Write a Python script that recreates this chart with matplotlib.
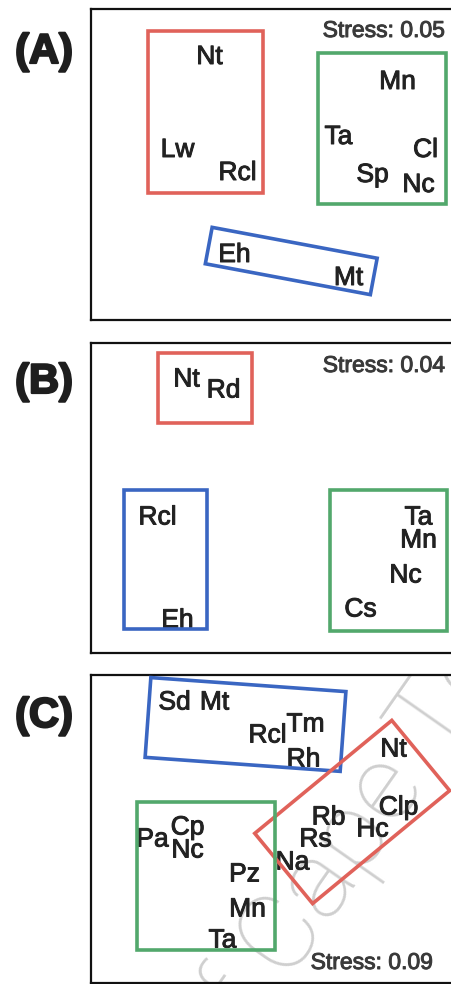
import numpy as np
import matplotlib
matplotlib.use("Agg")
import matplotlib.pyplot as plt
from matplotlib.patches import Polygon
import matplotlib.patheffects as pe

# ---------------- data (NMDS scores) ----------------
# Panel A
a_labels = ["Nt", "Lw", "Rcl", "Mn", "Ta", "Cl", "Sp", "Nc", "Eh", "Mt"]
a_x = [-0.62, -0.94, -0.34, 1.26, 0.67, 1.54, 1.01, 1.47, -0.37, 0.77]
a_y = [1.10, 0.17, -0.06, 0.85, 0.30, 0.17, -0.08, -0.18, -0.88, -1.11]
a_group = ["red", "red", "red", "green", "green", "green", "green", "green", "blue", "blue"]
a_stress = 0.05

# Panel B
b_labels = ["Nt", "Rd", "Rcl", "Eh", "Ta", "Mn", "Nc", "Cs"]
b_x = [-0.85, -0.48, -1.14, -0.94, 1.47, 1.47, 1.34, 0.89]
b_y = [1.21, 1.10, -0.17, -1.20, -0.17, -0.40, -0.75, -1.09]
b_group = ["red", "red", "blue", "blue", "green", "green", "green", "green"]
b_stress = 0.04

# Panel C
c_labels = ["Sd", "Mt", "Rcl", "Tm", "Rh",
            "Nt", "Clp", "Hc", "Rb", "Rs", "Na",
            "Pa", "Cp", "Nc", "Pz", "Mn", "Ta"]
c_x = [-0.97, -0.57, -0.04, 0.34, 0.32,
       1.22, 1.27, 1.01, 0.57, 0.44, 0.21,
       -1.19, -0.84, -0.84, -0.27, -0.24, -0.49]
c_y = [1.29, 1.29, 0.96, 1.07, 0.72,
       0.82, 0.24, 0.02, 0.14, -0.08, -0.31,
       -0.08, 0.04, -0.19, -0.43, -0.78, -1.09]
c_group = ["blue"] * 5 + ["red"] * 6 + ["green"] * 6
c_stress = 0.09

# ---------------- styling ----------------
COLORS = {"red": "#e0625a", "green": "#52a86c", "blue": "#3a66c2"}
LABEL_FONT = "Liberation Sans"

# group box styles: (angle in degrees, pads left/right/bottom/top in data units)
a_boxes = {"red": (0.0, (0.295, 0.255, 0.225, 0.235)),
           "green": (0.0, (0.205, 0.205, 0.215, 0.265)),
           "blue": (-10.6, (0.266, 0.250, 0.148, 0.206))}
b_boxes = {"red": (0.0, (0.285, 0.285, 0.35, 0.24)),
           "blue": (0.0, (0.335, 0.295, 0.11, 0.25)),
           "green": (0.0, (0.305, 0.285, 0.24, 0.25))}
c_boxes = {"blue": (-4.11, (0.252, 0.376, 0.117, 0.178)),
           "red": (39.5, (0.122, 0.156, 0.210, 0.216)),
           "green": (0.0, (0.155, 0.275, 0.12, 0.23))}

W, H = 452, 984
fig = plt.figure(figsize=(W / 100, H / 100), dpi=100)
fig.patch.set_facecolor("white")


def group_box(xs, ys, angle, pads):
    th = np.radians(angle)
    c, s = np.cos(th), np.sin(th)
    xs = np.asarray(xs); ys = np.asarray(ys)
    u = xs * c + ys * s
    v = -xs * s + ys * c
    pl, pr, pb, pt = pads
    u0, u1 = u.min() - pl, u.max() + pr
    v0, v1 = v.min() - pb, v.max() + pt
    uv = np.array([[u0, v0], [u1, v0], [u1, v1], [u0, v1]])
    x = uv[:, 0] * c - uv[:, 1] * s
    y = uv[:, 0] * s + uv[:, 1] * c
    return np.column_stack([x, y])


def panel(rect, xlim, ylim, labels, xs, ys, groups, boxes, stress, stress_pos, tag, tag_y):
    ax = fig.add_axes(rect)
    ax.set_xlim(*xlim)
    ax.set_ylim(*ylim)
    ax.set_xticks([]); ax.set_yticks([])
    ax.spines["right"].set_visible(False)
    for sp in ["left", "top", "bottom"]:
        ax.spines[sp].set_linewidth(1.6)
        ax.spines[sp].set_color("#111111")
    ax.patch.set_alpha(0)
    for lab, x, y in zip(labels, xs, ys):
        ax.text(x, y, lab, ha="center", va="center_baseline", fontsize=19,
                family=LABEL_FONT, color="#222222", zorder=2,
                path_effects=[pe.withStroke(linewidth=0.7, foreground="#222222")])
    for g, (ang, pads) in boxes.items():
        gx = [x for x, gg in zip(xs, groups) if gg == g]
        gy = [y for y, gg in zip(ys, groups) if gg == g]
        poly = Polygon(group_box(gx, gy, ang, pads), closed=True, fill=False,
                       edgecolor=COLORS[g], linewidth=2.6, joinstyle="miter", zorder=3)
        ax.add_patch(poly)
    ax.text(stress_pos[0], stress_pos[1], f"Stress: {stress:.2f}", transform=ax.transAxes,
            ha="right", va="center_baseline", fontsize=16.5, family=LABEL_FONT,
            color="#3a3a3a", zorder=4,
            path_effects=[pe.withStroke(linewidth=0.7, foreground="#3a3a3a")])
    fig.text(44 / W, tag_y, tag, ha="center", va="center", fontsize=30,
             family=LABEL_FONT, fontweight="bold", color="#1e1e1e",
             path_effects=[pe.withStroke(linewidth=1.6, foreground="#1e1e1e")])
    return ax


panel([91 / W, 1 - 320 / H, 361 / W, 311 / H], (-1.805, 1.805), (-1.555, 1.555),
      a_labels, a_x, a_y, a_group, a_boxes, a_stress, ((445 - 91) / 361, (320 - 28) / 311),
      "(A)", 1 - 52 / H)
panel([91 / W, 1 - 653 / H, 361 / W, 310 / H], (-1.805, 1.805), (-1.55, 1.55),
      b_labels, b_x, b_y, b_group, b_boxes, b_stress, ((445 - 91) / 361, (653 - 363) / 310),
      "(B)", 1 - 382 / H)
axc = panel([91 / W, 1 - 983 / H, 361 / W, 308 / H], (-1.805, 1.805), (-1.54, 1.54),
            c_labels, c_x, c_y, c_group, c_boxes, c_stress, ((433 - 91) / 361, (983 - 960) / 308),
            "(C)", 1 - 716 / H)

# faint watermark behind panel C content
axc.text(243 / W, 1 - 995 / H, "University of Cape Town", transform=fig.transFigure,
         rotation=55, rotation_mode="anchor", ha="center", va="center", fontsize=78,
         family="Roboto", fontweight=100, color="#cfcfcf", zorder=0.5, clip_on=True)

fig.savefig("out.png", dpi=100, facecolor="white")
